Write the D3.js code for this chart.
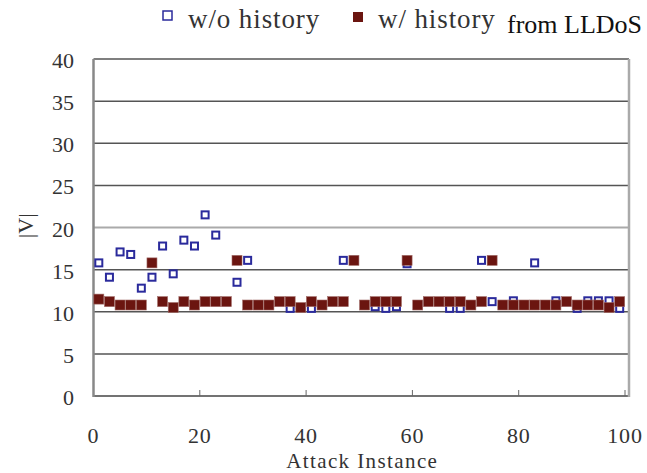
<!DOCTYPE html>
<html>
<head>
<meta charset="utf-8">
<script src="https://cdn.jsdelivr.net/npm/d3@7"></script>
<style>
  body { margin: 0; background: #fff; }
</style>
</head>
<body>
<div id="chart"></div>
<script>
// attack instances (odd numbered, 1..99)
const instances = d3.range(1, 100, 2);

const withoutHistory = [
  15.8, 14.1, 17.1, 16.8, 12.8, 14.1, 17.8, 14.5, 18.5, 17.8,
  21.5, 19.1, 11.2, 13.5, 16.1, 10.8, 10.8, 11.2, 10.4, 10.5,
  10.4, 10.8, 11.2, 16.1, 16.1, 10.8, 10.6, 10.4, 10.6, 15.7,
  10.8, 11.2, 11.2, 10.4, 10.4, 10.8, 16.1, 11.2, 10.8, 11.3,
  10.8, 15.8, 10.8, 11.3, 11.2, 10.4, 11.3, 11.3, 11.3, 10.4
];

const withHistory = [
  11.5, 11.2, 10.8, 10.8, 10.8, 15.8, 11.2, 10.5, 11.2, 10.8,
  11.2, 11.2, 11.2, 16.1, 10.8, 10.8, 10.8, 11.2, 11.2, 10.5,
  11.2, 10.8, 11.2, 11.2, 16.1, 10.8, 11.2, 11.2, 11.2, 16.1,
  10.8, 11.2, 11.2, 11.2, 11.2, 10.8, 11.2, 16.1, 10.8, 10.8,
  10.8, 10.8, 10.8, 10.8, 11.2, 10.8, 10.8, 10.8, 10.5, 11.2
];

const xTicks = [0, 20, 40, 60, 80, 100];
const yTicks = [0, 5, 10, 15, 20, 25, 30, 35, 40];

const width = 647, height = 473;
const serif = '"Liberation Serif", "DejaVu Serif", serif';

const svg = d3.select("#chart").append("svg")
  .attr("width", width)
  .attr("height", height)
  .style("font-family", serif);

const x = d3.scaleLinear().domain([0, 100]).range([93.5, 625]);
const y = d3.scaleLinear().domain([0, 40]).range([396, 59]);
const right = x(100) + 4;

// gridlines
svg.append("g").selectAll("line")
  .data(yTicks.filter(d => d > 0))
  .join("line")
    .attr("x1", x(0)).attr("x2", right)
    .attr("y1", d => y(d)).attr("y2", d => y(d))
    .attr("stroke", d => d === 20 ? "#aaa" : "#555")
    .attr("stroke-width", d => d === 20 ? 2 : 1.5);

// bottom line + inward ticks
svg.append("line")
  .attr("x1", x(0)).attr("x2", right)
  .attr("y1", y(0)).attr("y2", y(0))
  .attr("stroke", "#444").attr("stroke-width", 1.5);

svg.append("g").selectAll("line")
  .data(xTicks.slice(1))
  .join("line")
    .attr("x1", d => x(d)).attr("x2", d => x(d))
    .attr("y1", y(0)).attr("y2", y(0) - 6)
    .attr("stroke", "#666").attr("stroke-width", 1);

// left axis and right border
svg.append("line")
  .attr("x1", x(0)).attr("x2", x(0))
  .attr("y1", y(40)).attr("y2", y(0) + 1)
  .attr("stroke", "#888").attr("stroke-width", 2.5);
svg.append("line")
  .attr("x1", right).attr("x2", right)
  .attr("y1", y(40)).attr("y2", y(0) + 1)
  .attr("stroke", "#aaa").attr("stroke-width", 2.5);

// tick labels
svg.append("g").selectAll("text")
  .data(yTicks)
  .join("text")
    .attr("x", 74).attr("y", d => y(d) + 9)
    .attr("text-anchor", "end")
    .attr("fill", "#333")
    .style("font-size", "22px")
    .text(d => d);

svg.append("g").selectAll("text")
  .data(xTicks)
  .join("text")
    .attr("x", d => x(d)).attr("y", 443)
    .attr("text-anchor", "middle")
    .attr("fill", "#333")
    .style("font-size", "22px")
    .style("letter-spacing", "0.8px")
    .text(d => d);

// axis titles
svg.append("text")
  .attr("x", x(50) + 3).attr("y", 468)
  .attr("text-anchor", "middle")
  .attr("fill", "#333")
  .style("font-size", "21px")
  .style("letter-spacing", "1.4px")
  .text("Attack Instance");

svg.append("text")
  .attr("transform", "translate(33," + y(20.2) + ") rotate(-90)")
  .attr("text-anchor", "middle")
  .attr("fill", "#333")
  .style("font-size", "22px")
  .text("|V|");

// points: w/o history (open squares) then w/ history (filled) on top
const s = 9;
svg.append("g").selectAll("rect")
  .data(instances.map((d, i) => ({x: d, v: withoutHistory[i]})))
  .join("rect")
    .attr("x", d => x(d.x) - s / 2 + 1)
    .attr("y", d => y(d.v) - s / 2 + 1)
    .attr("width", s - 2).attr("height", s - 2)
    .attr("fill", "#fff")
    .attr("stroke", "#2a2a9c").attr("stroke-width", 2);

const r = 10;
svg.append("g").selectAll("rect")
  .data(instances.map((d, i) => ({x: d, v: withHistory[i]})))
  .join("rect")
    .attr("x", d => x(d.x) - r / 2)
    .attr("y", d => y(d.v) - r / 2)
    .attr("width", r).attr("height", r)
    .attr("fill", "#6b1510")
    .attr("stroke", "#a06a66").attr("stroke-width", 0.6);

// legend
const legend = svg.append("g");
legend.append("rect")
  .attr("x", 163).attr("y", 11).attr("width", 9).attr("height", 9)
  .attr("fill", "#fff").attr("stroke", "#2a2a9c").attr("stroke-width", 1.5);
legend.append("text")
  .attr("x", 188).attr("y", 28)
  .attr("fill", "#333")
  .style("font-size", "27px")
  .style("letter-spacing", "0.9px")
  .text("w/o history");
legend.append("rect")
  .attr("x", 353).attr("y", 12).attr("width", 10).attr("height", 10)
  .attr("fill", "#6b1510");
legend.append("text")
  .attr("x", 378).attr("y", 28)
  .attr("fill", "#333")
  .style("font-size", "27px")
  .style("letter-spacing", "0.9px")
  .text("w/ history");
legend.append("text")
  .attr("x", 507).attr("y", 33)
  .attr("fill", "#111")
  .style("font-size", "26px")
  .text("from LLDoS");
</script>
</body>
</html>
